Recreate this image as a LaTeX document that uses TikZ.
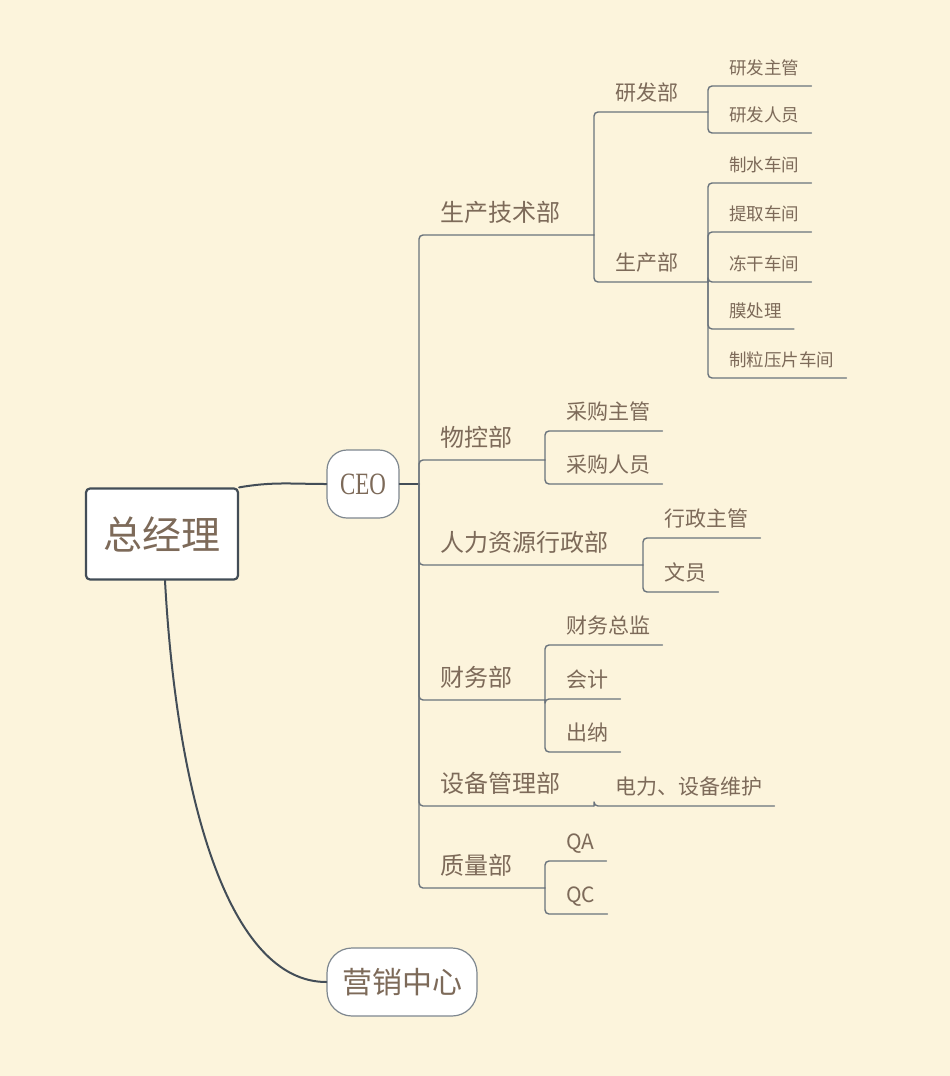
\documentclass[tikz,border=0pt]{standalone}
\usepackage{fontspec}
\setmainfont{Noto Sans CJK SC}
\newfontfamily\ceofont[FakeStretch=0.74]{Liberation Serif}
\definecolor{bg}{HTML}{FCF4DC}
\definecolor{txt}{HTML}{7D6A59}
\definecolor{edge}{HTML}{434D57}
\definecolor{twig}{HTML}{6A737C}
\definecolor{rim}{HTML}{7E878F}
\tikzset{
  rootbox/.style={draw=edge, line width=2.2pt, fill=white, rounded corners=4pt, minimum width=152pt, minimum height=91pt, text=txt, font=\fontsize{39}{39}\selectfont},
  pill/.style={draw=rim, line width=1.2pt, fill=white, minimum height=68pt, inner sep=0pt, text=txt},
  trunk/.style={draw=edge, line width=2pt},
  twigline/.style={draw=twig, line width=1.4pt, rounded corners=4pt},
  topic/.style={anchor=south west, inner xsep=12pt, inner ysep=#1, text depth=0pt, text=txt},
  dept/.style={topic=13pt, font=\fontsize{24}{24}\selectfont},
  sect/.style={topic=11pt, font=\fontsize{21}{21}\selectfont},
  post/.style={topic=11pt, font=\fontsize{17.5}{17.5}\selectfont}
}
\begin{document}
\begin{tikzpicture}[x=1pt, y=-1pt, line join=round, line cap=round]
\useasboundingbox (0,0) rectangle (950,1076);
\fill[bg] (0,0) rectangle (950,1076);
% main topics
\node[rootbox] (root) at (162,534) {总经理};
\node[pill, minimum width=72pt, rounded corners=20pt, font=\ceofont\fontsize{31}{31}\selectfont] (ceo) at (363,484) {CEO};
\node[pill, minimum width=150pt, rounded corners=25pt, font=\fontsize{30}{30}\selectfont] (mkt) at (402,982) {营销中心};
\draw[trunk] (root.north east) to[out=10,in=180] (ceo.west);
\draw[trunk] ([xshift=3pt]root.south) .. controls +(12,220) and +(-97,0) .. (mkt.west);
% junctions
\coordinate (jceo) at (419,484);
\coordinate (jsc) at (594,235); \coordinate (jwk) at (545,460);
\coordinate (jhr) at (643,565); \coordinate (jcw) at (545,700);
\coordinate (jsb) at (594,806); \coordinate (jzl) at (545,888);
\coordinate (jrd) at (708,112); \coordinate (jpd) at (708,282);
% departments
\node[dept] (sc) at (428,235) {生产技术部};
\node[dept] (wk) at (428,460) {物控部};
\node[dept] (hr) at (428,565) {人力资源行政部};
\node[dept] (cw) at (428,700) {财务部};
\node[dept] (sb) at (428,806) {设备管理部};
\node[dept] (zl) at (428,888) {质量部};
% sections
\node[sect] (rd) at (603,112) {研发部};
\node[sect] (pd) at (603,282) {生产部};
\node[sect] (cg1) at (554,431) {采购主管};
\node[sect] (cg2) at (554,484) {采购人员};
\node[sect] (xz) at (652,538) {行政主管};
\node[sect] (wy) at (652,592) {文员};
\node[sect] (zj) at (554,645) {财务总监};
\node[sect] (kj) at (554,699) {会计};
\node[sect] (cn) at (554,752) {出纳};
\node[sect] (wh) at (603,806) {电力、设备维护};
\node[sect] (qa) at (554,861) {QA};
\node[sect] (qc) at (554,914) {QC};
% posts
\node[post] (rd1) at (717,86) {研发主管};
\node[post] (rd2) at (717,133) {研发人员};
\node[post] (cj1) at (717,183) {制水车间};
\node[post] (cj2) at (717,232) {提取车间};
\node[post] (cj3) at (717,282) {冻干车间};
\node[post] (cj4) at (717,329) {膜处理};
\node[post] (cj5) at (717,378) {制粒压片车间};
% connectors
\draw[trunk] (ceo.east) -- (jceo);
\foreach \n/\j in {sc/jsc, wk/jwk, hr/jhr, cw/jcw, sb/jsb, zl/jzl}
  \draw[twigline] (jceo) |- (\n.south west) -- (\j);
\draw[twigline] (jsc) |- (rd.south west) -- (jrd);
\draw[twigline] (jsc) |- (pd.south west) -- (jpd);
\foreach \j/\n in {jwk/cg1, jwk/cg2, jhr/xz, jhr/wy, jcw/zj, jcw/kj, jcw/cn, jsb/wh, jzl/qa, jzl/qc, jrd/rd1, jrd/rd2, jpd/cj1, jpd/cj2, jpd/cj3, jpd/cj4, jpd/cj5}
  \draw[twigline] (\j) |- (\n.south west) -- (\n.south east);
\end{tikzpicture}
\end{document}
